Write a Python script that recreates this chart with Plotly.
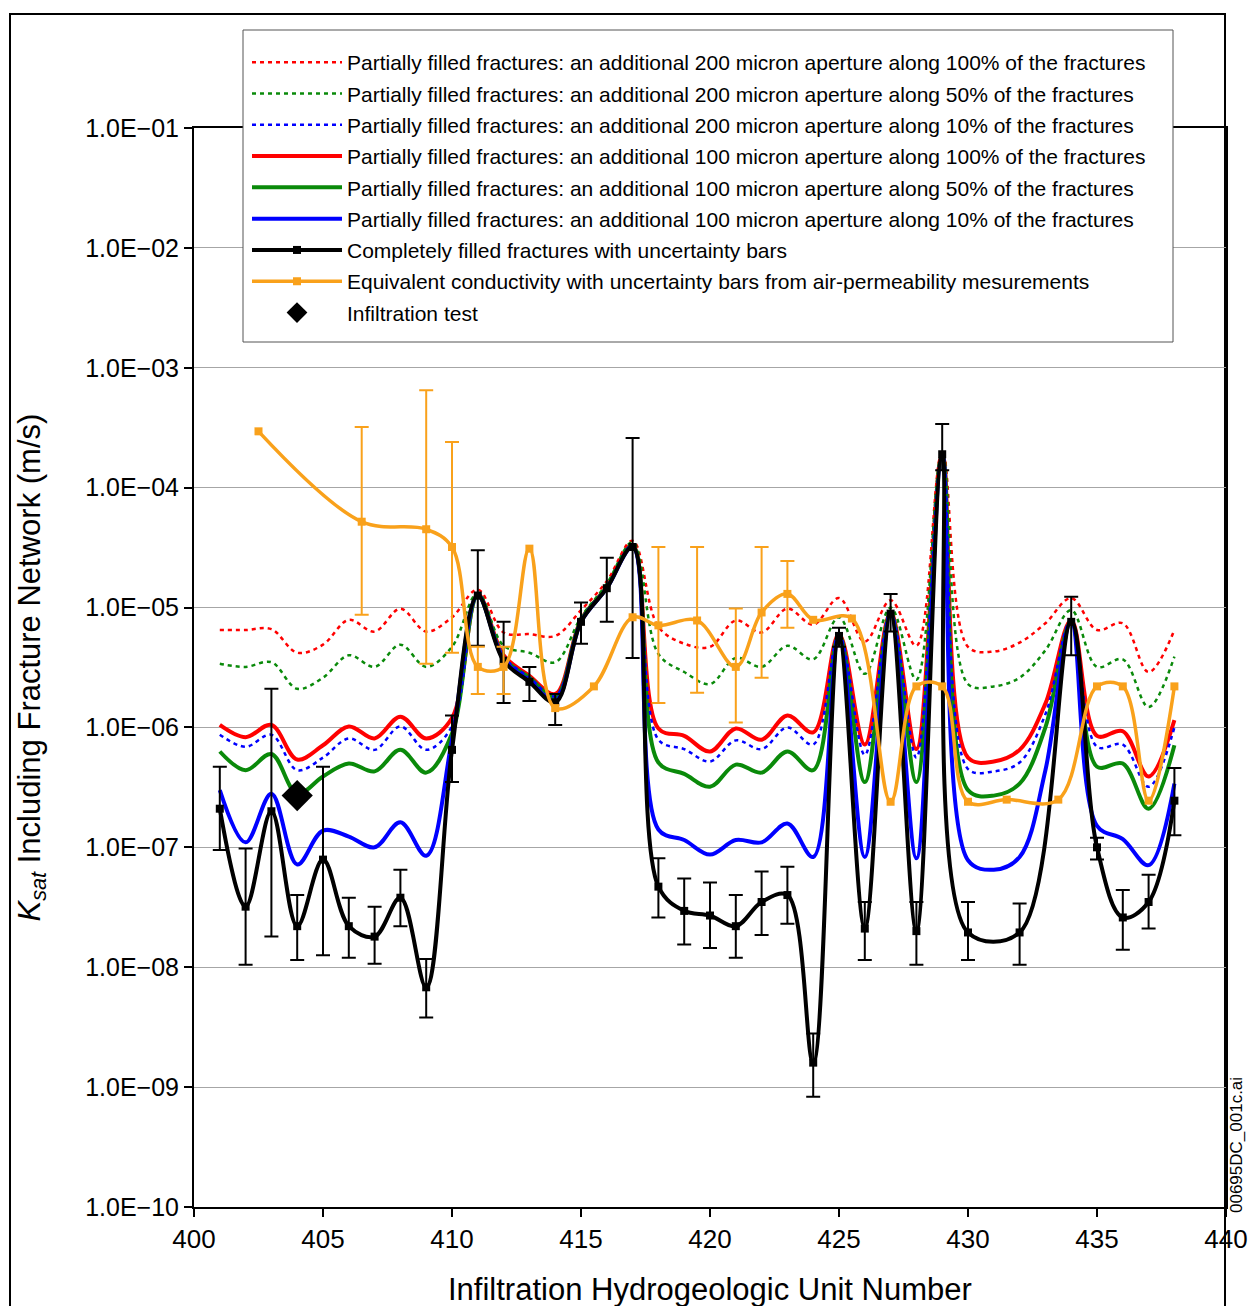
import plotly.graph_objects as go

# Hydrogeologic unit numbers for the modelled curves
units = list(range(401, 439))

# Partially filled fractures, additional 200 micron aperture (dotted curves), Ksat in m/s
k200_100 = [6.5e-6, 6.5e-6, 6.6e-6, 4.2e-6, 4.9e-6, 7.9e-6, 6.3e-6, 9.8e-6, 6.3e-6, 8.3e-6,
            1.41e-5, 6.2e-6, 6.0e-6, 5.8e-6, 9.5e-6, 1.66e-5, 3.6e-5, 6.9e-6, 5.0e-6, 4.7e-6,
            7.8e-6, 6.2e-6, 9.8e-6, 7.2e-6, 1.2e-5, 5.2e-6, 1.15e-5, 4.8e-6, 2.0e-4, 4.7e-6,
            4.3e-6, 5.1e-6, 7.4e-6, 1.2e-5, 6.5e-6, 7.4e-6, 2.9e-6, 6.5e-6]
k200_50 = [3.4e-6, 3.2e-6, 3.5e-6, 2.1e-6, 2.6e-6, 4.0e-6, 3.2e-6, 4.9e-6, 3.2e-6, 4.7e-6,
           1.32e-5, 4.8e-6, 4.2e-6, 3.5e-6, 8.3e-6, 1.58e-5, 3.5e-5, 4.1e-6, 2.9e-6, 2.3e-6,
           3.8e-6, 3.2e-6, 4.8e-6, 3.7e-6, 8.3e-6, 2.8e-6, 1.0e-5, 2.5e-6, 1.95e-4, 2.3e-6,
           2.2e-6, 2.6e-6, 4.4e-6, 9.5e-6, 3.2e-6, 3.7e-6, 1.48e-6, 3.9e-6]
k200_10 = [8.7e-7, 6.9e-7, 8.7e-7, 4.4e-7, 5.6e-7, 8.1e-7, 6.5e-7, 1.02e-6, 6.5e-7, 1.02e-6,
           1.29e-5, 3.9e-6, 2.6e-6, 1.82e-6, 7.8e-6, 1.48e-5, 3.3e-5, 7.9e-7, 6.6e-7, 5.2e-7,
           7.8e-7, 6.6e-7, 1.0e-6, 7.2e-7, 5.9e-6, 5.9e-7, 9.1e-6, 5.6e-7, 1.9e-4, 4.5e-7,
           4.3e-7, 5.1e-7, 1.29e-6, 7.8e-6, 6.9e-7, 7.2e-7, 3.2e-7, 1.0e-6]

# Partially filled fractures, additional 100 micron aperture (solid curves)
k100_100 = [1.05e-6, 8.3e-7, 1.05e-6, 5.4e-7, 7.1e-7, 1.02e-6, 8.1e-7, 1.23e-6, 8.1e-7, 1.2e-6,
            1.29e-5, 4.0e-6, 2.7e-6, 1.9e-6, 7.9e-6, 1.48e-5, 3.3e-5, 9.8e-7, 8.5e-7, 6.3e-7,
            9.8e-7, 7.9e-7, 1.26e-6, 9.1e-7, 6.0e-6, 7.2e-7, 9.1e-6, 6.6e-7, 1.9e-4, 5.6e-7,
            5.2e-7, 6.5e-7, 1.58e-6, 7.8e-6, 8.5e-7, 9.3e-7, 3.9e-7, 1.15e-6]
k100_50 = [6.3e-7, 4.4e-7, 6.0e-7, 2.8e-7, 3.9e-7, 5.0e-7, 4.3e-7, 6.5e-7, 4.2e-7, 8.9e-7,
           1.26e-5, 3.8e-6, 2.6e-6, 1.78e-6, 7.8e-6, 1.48e-5, 3.3e-5, 5.1e-7, 4.1e-7, 3.2e-7,
           4.9e-7, 4.2e-7, 6.3e-7, 4.4e-7, 5.9e-6, 3.5e-7, 8.9e-6, 3.5e-7, 1.9e-4, 3.0e-7,
           2.7e-7, 3.4e-7, 1.0e-6, 7.6e-6, 4.7e-7, 5.0e-7, 2.1e-7, 7.1e-7]
k100_10 = [3.0e-7, 1.1e-7, 2.8e-7, 7.2e-8, 1.38e-7, 1.23e-7, 1.0e-7, 1.62e-7, 8.5e-8, 7.9e-7,
           1.26e-5, 3.7e-6, 2.45e-6, 1.66e-6, 7.6e-6, 1.45e-5, 3.2e-5, 1.41e-7, 1.15e-7, 8.7e-8,
           1.15e-7, 1.1e-7, 1.58e-7, 8.3e-8, 5.8e-6, 8.3e-8, 8.9e-6, 8.1e-8, 1.86e-4, 7.8e-8,
           6.5e-8, 8.3e-8, 4.4e-7, 7.6e-6, 1.51e-7, 1.17e-7, 7.1e-8, 3.4e-7]

# Completely filled fractures with uncertainty range
filled_x = list(range(401, 431)) + [432, 434, 435, 436, 437, 438]
filled_k = [2.1e-7, 3.2e-8, 2.0e-7, 2.2e-8, 7.9e-8, 2.2e-8, 1.8e-8, 3.8e-8, 6.8e-9, 6.5e-7,
            1.26e-5, 3.6e-6, 2.4e-6, 1.62e-6, 7.6e-6, 1.45e-5, 3.2e-5, 4.7e-8, 2.95e-8, 2.7e-8,
            2.2e-8, 3.5e-8, 4.0e-8, 1.6e-9, 5.8e-6, 2.1e-8, 8.9e-6, 2.0e-8, 1.9e-4, 1.95e-8,
            1.95e-8, 7.6e-6, 1.0e-7, 2.6e-8, 3.5e-8, 2.45e-7]
filled_hi = [4.7e-7, 9.8e-8, 2.1e-6, 4.0e-8, 4.7e-7, 3.8e-8, 3.2e-8, 6.5e-8, 1.17e-8, 1.26e-6,
             3.0e-5, 7.6e-6, 3.2e-6, 1.9e-6, 1.1e-5, 2.6e-5, 2.6e-4, 8.1e-8, 5.5e-8, 5.1e-8,
             4.0e-8, 6.3e-8, 6.9e-8, 2.8e-9, 6.8e-6, 3.5e-8, 1.3e-5, 3.5e-8, 3.4e-4, 3.5e-8,
             3.4e-8, 1.23e-5, 1.2e-7, 4.4e-8, 5.9e-8, 4.6e-7]
filled_lo = [9.5e-8, 1.05e-8, 1.8e-8, 1.15e-8, 1.26e-8, 1.2e-8, 1.07e-8, 2.2e-8, 3.8e-9, 3.5e-7,
             4.8e-6, 1.6e-6, 1.66e-6, 1.05e-6, 5.0e-6, 7.6e-6, 3.8e-6, 2.6e-8, 1.55e-8, 1.45e-8,
             1.2e-8, 1.86e-8, 2.3e-8, 8.3e-10, 4.7e-6, 1.15e-8, 6.3e-6, 1.05e-8, 1.4e-4, 1.15e-8,
             1.05e-8, 4.0e-6, 7.9e-8, 1.4e-8, 2.1e-8, 1.26e-7]

# Equivalent conductivity from air-permeability measurements (None = no uncertainty bar)
air_x = [402.5, 406.5, 409, 410, 411, 412, 413, 414, 415.5, 417, 418, 419.5, 421, 422, 423,
         424, 425.5, 427, 428, 429, 430, 431.5, 433.5, 435, 436, 437, 438]
air_k = [2.95e-4, 5.2e-5, 4.5e-5, 3.2e-5, 3.2e-6, 3.2e-6, 3.1e-5, 1.45e-6, 2.2e-6, 8.3e-6,
         7.1e-6, 7.8e-6, 3.2e-6, 9.1e-6, 1.3e-5, 7.9e-6, 8.1e-6, 2.4e-7, 2.2e-6, 2.2e-6,
         2.4e-7, 2.5e-7, 2.5e-7, 2.2e-6, 2.2e-6, 2.45e-7, 2.2e-6]
air_hi = [None, 3.2e-4, 6.5e-4, 2.4e-4, 4.7e-6, 4.7e-6, None, None, None, None,
          3.2e-5, 3.2e-5, 9.8e-6, 3.2e-5, 2.45e-5, None, None, None, None, None,
          None, None, None, None, None, None, None]
air_lo = [None, 8.7e-6, 3.4e-6, 4.2e-6, 1.9e-6, 1.9e-6, None, None, None, None,
          1.6e-6, 1.95e-6, 1.1e-6, 2.6e-6, 6.8e-6, None, None, None, None, None,
          None, None, None, None, None, None, None]

# Infiltration test
infil_x = [404]
infil_k = [2.7e-7]

# Axis ticks
x_ticks = [400, 405, 410, 415, 420, 425, 430, 435, 440]
y_tickvals = [1e-10, 1e-9, 1e-8, 1e-7, 1e-6, 1e-5, 1e-4, 1e-3, 1e-2, 1e-1]
y_ticktext = ["1.0E\u221210", "1.0E\u221209", "1.0E\u221208", "1.0E\u221207", "1.0E\u221206",
              "1.0E\u221205", "1.0E\u221204", "1.0E\u221203", "1.0E\u221202", "1.0E\u221201"]

RED, GREEN, BLUE = "#ff0000", "#0a8a0a", "#0000ff"
ORANGE = "#f9a11b"
FONT = "Liberation Sans, Arial, sans-serif"

lbl = "Partially filled fractures: an additional {} micron aperture along {}% of the fractures"

fig = go.Figure()

curves = [
    (k200_100, RED, "dot", lbl.format(200, 100), 1),
    (k200_50, GREEN, "dot", lbl.format(200, 50), 2),
    (k200_10, BLUE, "dot", lbl.format(200, 10), 3),
    (k100_100, RED, "solid", lbl.format(100, 100), 4),
    (k100_50, GREEN, "solid", lbl.format(100, 50), 5),
    (k100_10, BLUE, "solid", lbl.format(100, 10), 6),
]
# solid curves underneath, dotted ones on top
for vals, col, dash, name, rank in curves[3:] + curves[:3]:
    fig.add_trace(go.Scatter(
        x=units, y=vals, mode="lines", name=name,
        legendrank=rank, legendgroup=name,
        line=dict(color=col, width=2.5 if dash == "dot" else 4,
                  dash="4px,4px" if dash == "dot" else "solid",
                  shape="spline", smoothing=1.0),
    ))

fig.add_trace(go.Scatter(
    x=filled_x, y=filled_k, mode="lines+markers",
    name="Completely filled fractures with uncertainty bars",
    legendrank=7, legendgroup="filled",
    line=dict(color="black", width=4, shape="spline", smoothing=1.0),
    marker=dict(symbol="square", size=8, color="black"),
    error_y=dict(type="data", symmetric=False,
                 array=[h - k for h, k in zip(filled_hi, filled_k)],
                 arrayminus=[k - l for k, l in zip(filled_k, filled_lo)],
                 color="black", thickness=2, width=7),
))

# uncertainty bars of the air-permeability estimates
err_idx = [i for i, h in enumerate(air_hi) if h is not None]
fig.add_trace(go.Scatter(
    x=[air_x[i] for i in err_idx], y=[air_k[i] for i in err_idx],
    mode="markers", showlegend=False, hoverinfo="skip",
    marker=dict(size=1, color=ORANGE, opacity=0),
    error_y=dict(type="data", symmetric=False,
                 array=[air_hi[i] - air_k[i] for i in err_idx],
                 arrayminus=[air_k[i] - air_lo[i] for i in err_idx],
                 color=ORANGE, thickness=2, width=7),
))
fig.add_trace(go.Scatter(
    x=air_x, y=air_k, mode="lines+markers",
    name="Equivalent conductivity with uncertainty bars from air-permeability mesurements",
    legendrank=8, legendgroup="air",
    line=dict(color=ORANGE, width=3.5, shape="spline", smoothing=1.0),
    marker=dict(symbol="square", size=8, color=ORANGE),
))

fig.add_trace(go.Scatter(
    x=infil_x, y=infil_k, mode="markers", name="Infiltration test",
    legendrank=9, legendgroup="infil",
    marker=dict(symbol="diamond", size=24, color="black"),
))

W, H = 1252, 1306
ML, MR, MT, MB = 194, 26, 128, 99
pw, ph = W - ML - MR, H - MT - MB


def px(xp):
    return (xp - ML) / pw


def py(yp):
    return (H - MB - yp) / ph


fig.update_layout(
    width=W, height=H,
    margin=dict(l=ML, r=MR, t=MT, b=MB, autoexpand=False),
    paper_bgcolor="white", plot_bgcolor="white",
    font=dict(family=FONT, color="black"),
    showlegend=True,
    legend=dict(
        x=px(247), y=py(42), xanchor="left", yanchor="top",
        bgcolor="rgba(0,0,0,0)", borderwidth=0,
        font=dict(size=21, family=FONT, color="black"),
        traceorder="grouped", tracegroupgap=1, itemwidth=90,
        itemsizing="trace",
    ),
    xaxis=dict(
        range=[400, 440], tickvals=x_ticks, ticks="outside", ticklen=8, tickwidth=2,
        tickcolor="black", showline=True, linecolor="black", linewidth=2, mirror=True,
        showgrid=False, zeroline=False, tickfont=dict(size=26, family=FONT),
    ),
    yaxis=dict(
        type="log", range=[-10, -1], tickvals=y_tickvals, ticktext=y_ticktext,
        ticks="outside", ticklen=8, tickwidth=2, tickcolor="black",
        showline=True, linecolor="black", linewidth=2, mirror=True,
        showgrid=True, gridcolor="#a6a6a6", gridwidth=1,
        tickfont=dict(size=25, family=FONT),
    ),
    annotations=[
        dict(text="<i>K</i><sub><i>sat</i></sub> Including Fracture Network (m/s)",
             xref="paper", yref="paper", x=px(31), y=0.5, textangle=-90,
             showarrow=False, font=dict(size=31, family=FONT), xanchor="center", yanchor="middle"),
        dict(text="Infiltration Hydrogeologic Unit Number",
             xref="paper", yref="paper", x=0.5, y=py(1289),
             showarrow=False, font=dict(size=31, family=FONT), xanchor="center", yanchor="middle"),
        dict(text="00695DC_001c.ai", xref="paper", yref="paper", x=px(1236), y=py(1145),
             textangle=-90, showarrow=False,
             font=dict(size=17, family="Liberation Sans Narrow, Arial Narrow, Liberation Sans"),
             xanchor="center", yanchor="middle"),
    ],
    shapes=[
        dict(type="rect", xref="paper", yref="paper", x0=px(10), x1=px(1225), y0=py(1400),
             y1=py(14), line=dict(color="black", width=2), layer="below"),
        # legend panel
        dict(type="rect", xref="paper", yref="paper", x0=px(243), x1=px(1173), y0=py(342),
             y1=py(30), fillcolor="white", line=dict(color="#555555", width=1), layer="above"),
    ],
)

fig.write_html("out.html")
